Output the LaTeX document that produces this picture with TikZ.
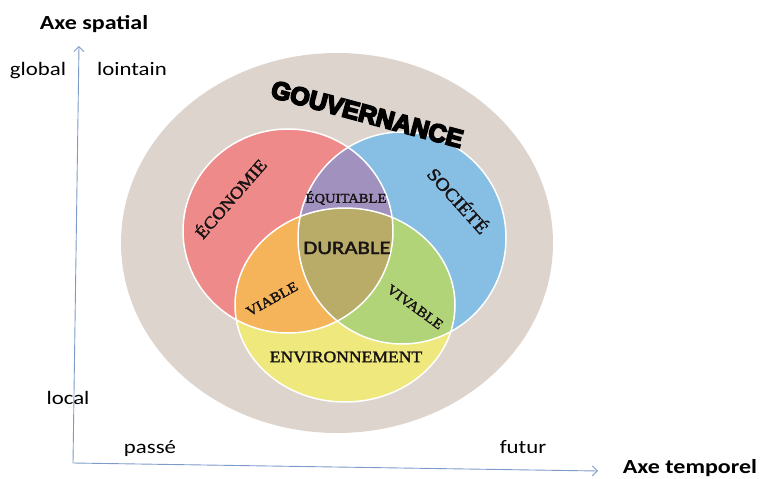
\documentclass[tikz,border=0pt]{standalone}
\usepackage{fontspec}
\usetikzlibrary{arrows.meta}
\newfontfamily\calib{Carlito}[FakeStretch=1.2]
\newfontfamily\calibheavy{Carlito}[FakeStretch=1.2,FakeBold=2]
\newfontfamily\serifl{Liberation Serif}[FakeStretch=1.1,FakeBold=2]
\newfontfamily\gouvfont{Liberation Sans Bold}[FakeBold=7]
\definecolor{cbeige}{RGB}{221,212,205}
\definecolor{cred}{RGB}{239,138,138}
\definecolor{cblue}{RGB}{135,190,228}
\definecolor{cyel}{RGB}{238,232,125}
\definecolor{cpurple}{RGB}{160,145,190}
\definecolor{corange}{RGB}{245,180,90}
\definecolor{cgreen}{RGB}{178,212,120}
\definecolor{colive}{RGB}{185,172,105}
\definecolor{caxis}{RGB}{125,155,200}
\definecolor{ctext}{RGB}{25,20,20}
\tikzset{
  axisline/.style={draw=caxis, line width=0.9pt, -{Straight Barb[length=5pt,width=10pt]}},
  axlab/.style={font=\calib\fontsize{19}{19}\selectfont, anchor=base, inner sep=0pt},
  axtitle/.style={font=\calib\bfseries\fontsize{20}{20}\selectfont, anchor=base, inner sep=0pt},
  serlab/.style={inner sep=0pt, text=ctext},
  outline/.style={draw=white, line width=1.5pt}
}
\def\pathred{(288,231) ellipse [x radius=105, y radius=102]}
\def\pathblue{(402,238) ellipse [x radius=104, y radius=106]}
\def\pathyel{(345,305) ellipse [x radius=110, y radius=97]}
\begin{document}
\begin{tikzpicture}[x=1pt,y=-1pt]
\useasboundingbox (0,0) rectangle (763,479);
% gouvernance
\fill[cbeige] (337,243) ellipse [x radius=216, y radius=190];
% three sets
\fill[cred] \pathred;
\fill[cblue] \pathblue;
\fill[cyel] \pathyel;
\begin{scope} \clip \pathred; \fill[cpurple] \pathblue; \end{scope}
\begin{scope} \clip \pathred; \fill[corange] \pathyel; \end{scope}
\begin{scope} \clip \pathblue; \fill[cgreen] \pathyel; \end{scope}
\begin{scope} \clip \pathred; \clip \pathblue; \fill[colive] \pathyel; \end{scope}
\draw[outline] \pathred;
\draw[outline] \pathblue;
\draw[outline] \pathyel;
% labels
\node[anchor=base, inner sep=0pt, rotate=-15, font=\gouvfont\fontsize{25}{25}\selectfont] (gouv) at (365,122.5) {GOUVERNANCE};
\node[serlab, rotate=49, font=\serifl\fontsize{17}{17}\selectfont] (eco) at (230,198) {ÉCONOMIE};
\node[serlab, rotate=-48, font=\serifl\fontsize{18}{18}\selectfont] (soc) at (459,200) {SOCIÉTÉ};
\node[serlab, font=\serifl\fontsize{13.3}{13.3}\selectfont] (equ) at (346,198) {ÉQUITABLE};
\node[serlab, font=\calibheavy\fontsize{19}{19}\selectfont] (dur) at (347,248) {DURABLE};
\node[serlab, rotate=29, font=\serifl\fontsize{14}{14}\selectfont] (via) at (272,299) {VIABLE};
\node[serlab, rotate=-36, font=\serifl\fontsize{14}{14}\selectfont] (viv) at (415,307) {VIVABLE};
\node[serlab, font=\serifl\fontsize{16}{16}\selectfont] (env) at (346,357) {ENVIRONNEMENT};
% axes
\coordinate (o) at (73,463);
\coordinate (ytip) at (79,46);
\coordinate (xtip) at (598,471);
\draw[axisline] (o) -- (ytip);
\draw[axisline] (o) -- (xtip);
\node[axtitle] (axs) at (94,29.5) {Axe spatial};
\node[axlab] (glob) at (38,75) {global};
\node[axlab] (loin) at (132,75) {lointain};
\node[axlab] (loc) at (68,404) {local};
\node[axlab] (pas) at (150,453) {passé};
\node[axlab] (fut) at (523,453) {futur};
\node[axtitle] (axt) at (690,473.5) {Axe temporel};
\end{tikzpicture}
\end{document}
